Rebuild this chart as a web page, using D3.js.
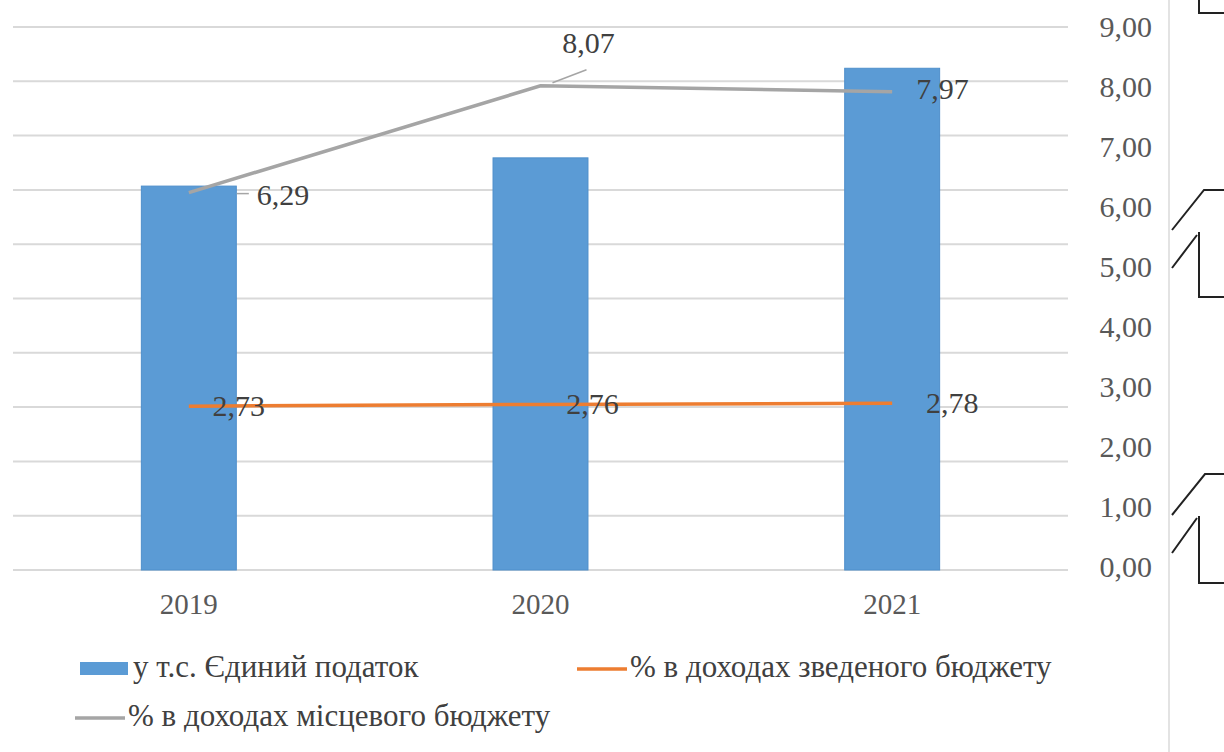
<!DOCTYPE html>
<html>
<head>
<meta charset="utf-8">
<script src="https://cdn.jsdelivr.net/npm/d3@7"></script>
<style>
  body { margin: 0; background: #fff; }
</style>
</head>
<body>
<div id="chart"></div>
<script>
// Data
const years = ["2019", "2020", "2021"];
const singleTax = [7.07, 7.59, 9.24];          // bars, primary (hidden) axis in grid units
const shareConsolidated = [2.73, 2.76, 2.78];  // % в доходах зведеного бюджету
const shareLocal = [6.29, 8.07, 7.97];         // % в доходах місцевого бюджету
const rightTicks = [0, 1, 2, 3, 4, 5, 6, 7, 8, 9];
const gridTicks = [0, 1, 2, 3, 4, 5, 6, 7, 8, 9, 10];

const width = 1224, height = 752;
const plot = {left: 13, right: 1068, top: 27, bottom: 570};
const serif = "'Liberation Serif', 'Times New Roman', 'DejaVu Serif', serif";

const svg = d3.select("#chart").append("svg")
    .attr("width", width)
    .attr("height", height)
    .attr("font-family", serif)
    .style("display", "block");

const x = d3.scaleBand()
    .domain(years)
    .range([plot.left, plot.right])
    .paddingInner(0.73)
    .paddingOuter(0.365);

const yLeft = d3.scaleLinear().domain([0, 10]).range([plot.bottom, plot.top]);
const yRight = d3.scaleLinear().domain([0, 9]).range([plot.bottom, plot.top + 3]);

// gridlines (primary axis)
svg.append("g")
    .selectAll("line")
    .data(gridTicks)
    .enter().append("line")
    .attr("x1", plot.left)
    .attr("x2", plot.right)
    .attr("y1", d => yLeft(d))
    .attr("y2", d => yLeft(d))
    .attr("stroke", "#d9d9d9")
    .attr("stroke-width", 2);

// bars
svg.append("g")
    .selectAll("rect")
    .data(years)
    .enter().append("rect")
    .attr("x", d => x(d))
    .attr("width", x.bandwidth())
    .attr("y", (d, i) => yLeft(singleTax[i]))
    .attr("height", (d, i) => yLeft(0) - yLeft(singleTax[i]))
    .attr("fill", "#5b9bd5")
    .attr("stroke", "#4f8fcb")
    .attr("stroke-width", 1);

const cx = d => x(d) + x.bandwidth() / 2;

const line = d3.line()
    .x(d => cx(d.year))
    .y(d => yRight(d.v));

const orangeData = years.map((y, i) => ({year: y, v: shareConsolidated[i]}));
const grayData = years.map((y, i) => ({year: y, v: shareLocal[i]}));

svg.append("path")
    .datum(grayData)
    .attr("d", line)
    .attr("fill", "none")
    .attr("stroke", "#a5a5a5")
    .attr("stroke-width", 3.5);

svg.append("path")
    .datum(orangeData)
    .attr("d", line)
    .attr("fill", "none")
    .attr("stroke", "#ed7d31")
    .attr("stroke-width", 3.5);

const fmt = v => d3.format(".2f")(v).replace(".", ",");

// data labels for local budget share
const grayLabelPos = [
    {dx: 68, dy: 6, anchor: "start"},
    {dx: 48, dy: -40, anchor: "middle"},
    {dx: 24, dy: 0, anchor: "start"}
];
svg.append("g")
    .selectAll("text")
    .data(grayData)
    .enter().append("text")
    .attr("x", (d, i) => cx(d.year) + grayLabelPos[i].dx)
    .attr("y", (d, i) => yRight(d.v) + grayLabelPos[i].dy)
    .attr("text-anchor", (d, i) => grayLabelPos[i].anchor)
    .attr("dominant-baseline", "middle")
    .attr("font-size", 30)
    .attr("fill", "#404040")
    .text(d => fmt(d.v));

// leader lines for a couple of labels
svg.append("line")
    .attr("x1", cx(years[0]) + 48).attr("x2", cx(years[0]) + 60)
    .attr("y1", yRight(shareLocal[0]) + 1).attr("y2", yRight(shareLocal[0]) + 1)
    .attr("stroke", "#a5a5a5").attr("stroke-width", 1.5);
svg.append("line")
    .attr("x1", cx(years[1]) + 12).attr("x2", cx(years[1]) + 46)
    .attr("y1", yRight(shareLocal[1]) - 3).attr("y2", yRight(shareLocal[1]) - 16)
    .attr("stroke", "#a5a5a5").attr("stroke-width", 1.5);

// data labels for consolidated budget share
const orangeLabelDx = [50, 52, 60];
svg.append("g")
    .selectAll("text")
    .data(orangeData)
    .enter().append("text")
    .attr("x", (d, i) => cx(d.year) + orangeLabelDx[i])
    .attr("y", d => yRight(d.v) + 3)
    .attr("text-anchor", "middle")
    .attr("dominant-baseline", "middle")
    .attr("font-size", 30)
    .attr("fill", "#404040")
    .text(d => fmt(d.v));

// right axis labels
svg.append("g")
    .selectAll("text")
    .data(rightTicks)
    .enter().append("text")
    .attr("x", 1152)
    .attr("y", d => yRight(d))
    .attr("text-anchor", "end")
    .attr("dominant-baseline", "middle")
    .attr("font-size", 30)
    .attr("fill", "#595959")
    .text(d => fmt(d));

// category labels
svg.append("g")
    .selectAll("text")
    .data(years)
    .enter().append("text")
    .attr("x", d => cx(d))
    .attr("y", 607)
    .attr("text-anchor", "middle")
    .attr("dominant-baseline", "middle")
    .attr("font-size", 29)
    .attr("fill", "#595959")
    .text(d => d);

// legend
const legend = svg.append("g").attr("font-size", 31).attr("fill", "#404040");
legend.append("rect")
    .attr("x", 80).attr("y", 662).attr("width", 48).attr("height", 13)
    .attr("fill", "#5b9bd5");
legend.append("text")
    .attr("x", 133).attr("y", 670).attr("dominant-baseline", "middle")
    .text("у т.с. Єдиний податок");
legend.append("line")
    .attr("x1", 577).attr("x2", 627).attr("y1", 669).attr("y2", 669)
    .attr("stroke", "#ed7d31").attr("stroke-width", 3.5);
legend.append("text")
    .attr("x", 630).attr("y", 670).attr("dominant-baseline", "middle")
    .text("% в доходах зведеного бюджету");
legend.append("line")
    .attr("x1", 75).attr("x2", 125).attr("y1", 718).attr("y2", 718)
    .attr("stroke", "#a5a5a5").attr("stroke-width", 3.5);
legend.append("text")
    .attr("x", 128).attr("y", 719).attr("dominant-baseline", "middle")
    .text("% в доходах місцевого бюджету");

// page furniture on the right edge (frame of neighbouring figure)
svg.append("line")
    .attr("x1", 1169).attr("x2", 1169).attr("y1", 0).attr("y2", height)
    .attr("stroke", "#e3e3e3").attr("stroke-width", 2);
const deco = svg.append("g")
    .attr("fill", "none").attr("stroke", "#222").attr("stroke-width", 2);
deco.append("path").attr("d", "M1199,0 V13 H1224");
deco.append("path").attr("d", "M1172,230 L1204,190 H1224");
deco.append("path").attr("d", "M1172,268 L1197,235 M1199,232 V297 H1224");
deco.append("path").attr("d", "M1172,515 L1205,474 H1224");
deco.append("path").attr("d", "M1172,553 L1197,518 M1199,516 V583 H1224");
</script>
</body>
</html>
